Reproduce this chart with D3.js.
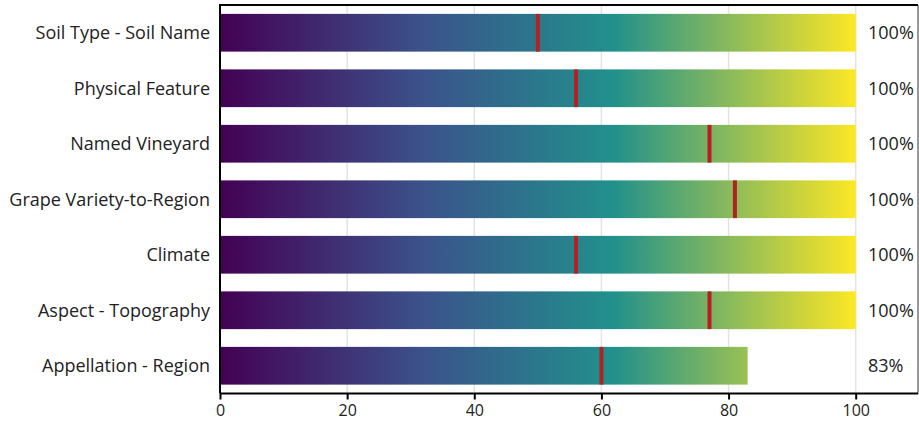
<!DOCTYPE html>
<html>
<head>
<meta charset="utf-8">
<script src="https://cdn.jsdelivr.net/npm/d3@7"></script>
<style>
  html, body { margin: 0; padding: 0; background: #fff; }
  svg { display: block; font-family: "Open Sans", "Noto Sans", sans-serif; }
</style>
</head>
<body>
<svg id="chart" width="919" height="428"></svg>
<script>
const categories = [
  'Soil Type - Soil Name',
  'Physical Feature',
  'Named Vineyard',
  'Grape Variety-to-Region',
  'Climate',
  'Aspect - Topography',
  'Appellation - Region'
];
const values = [100, 100, 100, 100, 100, 100, 83];
const markers = [50, 56, 77, 81, 56, 77, 60];
const xTicks = [0, 20, 40, 60, 80, 100];

// gradient stops (offset along 0..100, colour)
const gradientStops = [
  [0, '#440154'],
  [0.32, '#3b528b'],
  [0.62, '#21918c'],
  [1, '#fde725']
];

const svg = d3.select('#chart');
const plot = { left: 220, right: 918, top: 5, bottom: 393.5 };

const x = d3.scaleLinear().domain([0, 109.8]).range([plot.left, plot.right]);
const y = d3.scaleBand().domain(categories).range([plot.top, plot.bottom])
  .paddingInner(0.32).paddingOuter(0.16);

// gradient fixed to the 0..100 span of the axis
const grad = svg.append('defs').append('linearGradient')
  .attr('id', 'viridis')
  .attr('gradientUnits', 'userSpaceOnUse')
  .attr('x1', x(0)).attr('x2', x(100))
  .attr('y1', 0).attr('y2', 0);
grad.selectAll('stop').data(gradientStops).join('stop')
  .attr('offset', d => d[0])
  .attr('stop-color', d => d[1]);

// grid
svg.append('g').selectAll('line').data(xTicks.slice(1)).join('line')
  .attr('x1', d => x(d)).attr('x2', d => x(d))
  .attr('y1', plot.top).attr('y2', plot.bottom)
  .attr('stroke', '#e3e3e3').attr('stroke-width', 1.5);

const rows = categories.map((c, i) => ({ c, v: values[i], m: markers[i] }));

// bars
svg.append('g').selectAll('rect').data(rows).join('rect')
  .attr('x', x(0)).attr('y', d => y(d.c))
  .attr('width', d => x(d.v) - x(0))
  .attr('height', y.bandwidth())
  .attr('fill', 'url(#viridis)');

// markers
svg.append('g').selectAll('rect').data(rows).join('rect')
  .attr('x', d => x(d.m) - 2).attr('y', d => y(d.c))
  .attr('width', 4).attr('height', y.bandwidth())
  .attr('fill', '#b22222');

// value labels
svg.append('g').selectAll('text').data(rows).join('text')
  .attr('x', 868).attr('y', d => y(d.c) + y.bandwidth() / 2)
  .attr('dy', '0.35em')
  .attr('font-size', 18).attr('fill', '#222')
  .text(d => d.v + '%');

// category labels
svg.append('g').selectAll('text').data(rows).join('text')
  .attr('x', plot.left - 10).attr('y', d => y(d.c) + y.bandwidth() / 2)
  .attr('dy', '0.35em').attr('text-anchor', 'end')
  .attr('font-size', 18).attr('fill', '#222')
  .text(d => d.c);

// frame
svg.append('line').attr('x1', plot.right).attr('x2', plot.right)
  .attr('y1', plot.top).attr('y2', plot.bottom)
  .attr('stroke', '#333').attr('stroke-width', 1);
svg.append('line').attr('x1', plot.left).attr('x2', plot.right)
  .attr('y1', plot.top).attr('y2', plot.top)
  .attr('stroke', '#000').attr('stroke-width', 2);
svg.append('line').attr('x1', plot.left).attr('x2', plot.left)
  .attr('y1', plot.top - 1).attr('y2', plot.bottom)
  .attr('stroke', '#000').attr('stroke-width', 2);

// x axis
const xAxis = svg.append('g').attr('transform', `translate(0,${plot.bottom})`)
  .call(d3.axisBottom(x).tickValues(xTicks).tickSize(6).tickSizeOuter(0));
xAxis.select('.domain').attr('stroke', '#000').attr('stroke-width', 2)
  .attr('d', `M${plot.left},0H${plot.right}`);
xAxis.selectAll('.tick line').attr('stroke', '#000').attr('stroke-width', 2);
xAxis.selectAll('.tick text').attr('font-size', 16).attr('fill', '#222')
  .attr('font-family', '"Open Sans", "Noto Sans", sans-serif').attr('dy', '0.85em');
</script>
</body>
</html>
